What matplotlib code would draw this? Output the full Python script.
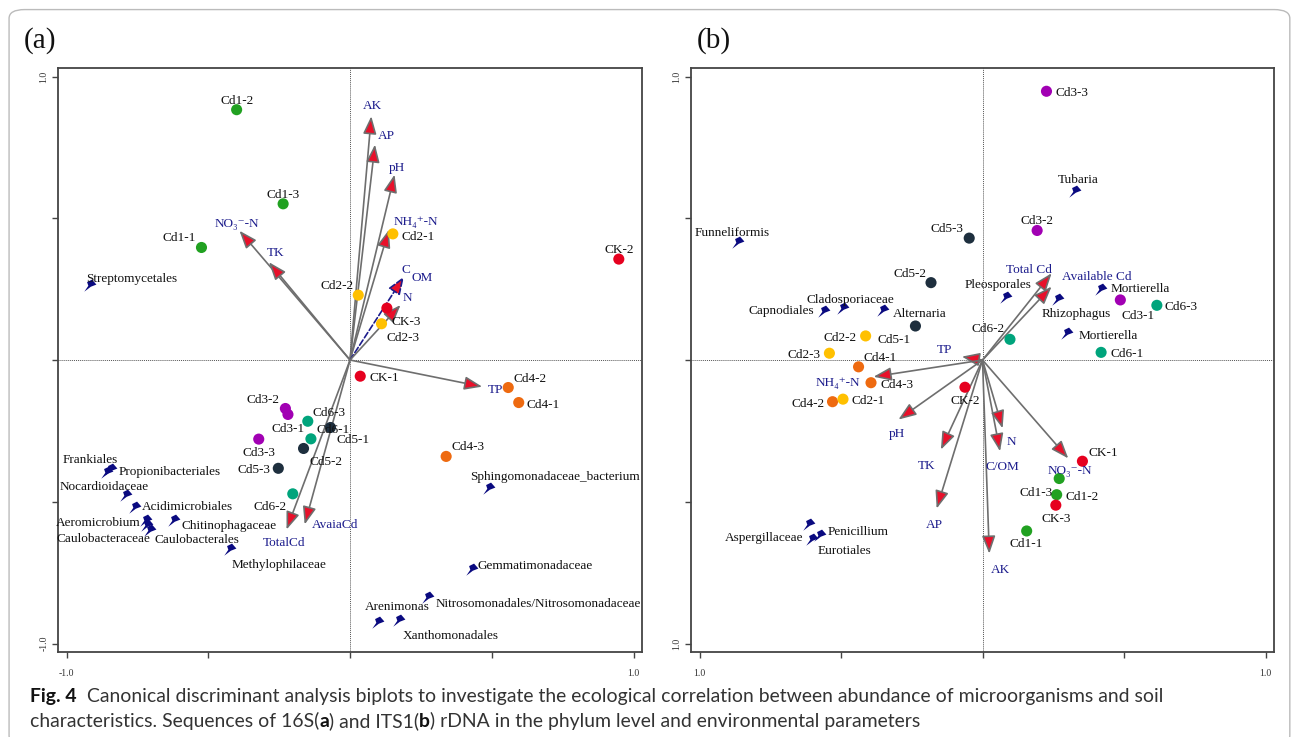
import matplotlib
matplotlib.use("Agg")
import matplotlib.pyplot as plt
from matplotlib.path import Path
from matplotlib.patches import FancyBboxPatch

# ---- colours per treatment group
GROUP_COLORS = {
    'CK': '#e6001f',
    'Cd1': '#21a121',
    'Cd2': '#ffc000',
    'Cd3': '#a100b3',
    'Cd4': '#ee6a10',
    'Cd5': '#1e2f3e',
    'Cd6': '#00a47c',
}
ARROW_GRAY = '#6e6e6e'
ENV_BLUE = '#1c1c8c'
SPECIES_BLUE = '#0a0a80'

NH4 = 'NH\u2084\u207a-N'
NO3 = 'NO\u2083\u207b-N'

# ---- panel (a): 16S samples
A_SAMPLES = ['Cd1-2', 'Cd1-3', 'Cd1-1', 'Cd2-2', 'Cd2-1', 'CK-3', 'Cd2-3', 'CK-2',
             'CK-1', 'Cd4-2', 'Cd4-1', 'Cd4-3', 'Cd3-2', 'Cd3-1', 'Cd3-3', 'Cd6-3',
             'Cd6-1', 'Cd5-1', 'Cd5-2', 'Cd5-3', 'Cd6-2']
A_SAMPLE_X = [-0.40, -0.236, -0.524, 0.029, 0.151, 0.130, 0.111, 0.948,
              0.036, 0.558, 0.595, 0.339, -0.228, -0.219, -0.322, -0.149,
              -0.138, -0.069, -0.164, -0.253, -0.202]
A_SAMPLE_Y = [0.883, 0.551, 0.397, 0.229, 0.445, 0.183, 0.128, 0.356,
              -0.057, -0.097, -0.150, -0.340, -0.171, -0.192, -0.279, -0.216,
              -0.278, -0.238, -0.312, -0.382, -0.472]

# panel (a): environmental arrows
A_ENV = ['AK', 'AP', 'pH', NH4, 'C', 'N', NO3, 'TK', 'TP', 'TotalCd', 'AvaiaCd']
A_ENV_X = [0.075, 0.088, 0.157, 0.137, 0.190, 0.178, -0.390, -0.286,
           0.466, -0.224, -0.160]
A_ENV_Y = [0.860, 0.760, 0.654, 0.459, 0.294, 0.194, 0.456, 0.345,
           -0.094, -0.598, -0.580]

# panel (a): taxa
A_SPECIES = ['Streptomycetales', 'Frankiales', 'Propionibacteriales', 'Nocardioidaceae',
             'Acidimicrobiales', 'Aeromicrobium', 'Caulobacteraceae', 'Caulobacterales',
             'Chitinophagaceae', 'Methylophilaceae', 'Sphingomonadaceae_bacterium',
             'Gemmatimonadaceae', 'Nitrosomonadales/Nitrosomonadaceae', 'Arenimonas',
             'Xanthomonadales']
A_SPECIES_X = [-0.918, -0.856, -0.842, -0.789, -0.759, -0.721, -0.715, -0.706,
               -0.621, -0.425, 0.489, 0.431, 0.274, 0.098, 0.174]
A_SPECIES_Y = [0.264, -0.395, -0.383, -0.475, -0.518, -0.565, -0.583, -0.598,
               -0.563, -0.665, -0.453, -0.736, -0.836, -0.925, -0.916]

# ---- panel (b): ITS1 samples
B_SAMPLES = ['Cd3-3', 'Cd3-2', 'Cd5-3', 'Cd3-1', 'Cd6-3', 'Cd6-2', 'Cd6-1', 'Cd5-2',
             'Cd5-1', 'Cd2-2', 'Cd2-3', 'Cd4-1', 'Cd4-3', 'Cd4-2', 'Cd2-1', 'CK-2',
             'CK-1', 'Cd1-3', 'Cd1-2', 'CK-3', 'Cd1-1']
B_SAMPLE_X = [0.226, 0.193, -0.047, 0.487, 0.616, 0.097, 0.419, -0.182,
              -0.237, -0.413, -0.541, -0.438, -0.394, -0.530, -0.493, -0.062,
              0.353, 0.271, 0.262, 0.259, 0.156]
B_SAMPLE_Y = [0.948, 0.457, 0.430, 0.212, 0.193, 0.073, 0.027, 0.273,
              0.120, 0.085, 0.024, -0.024, -0.080, -0.147, -0.138, -0.096,
              -0.357, -0.418, -0.475, -0.512, -0.603]

B_ENV = ['Total Cd', 'Available Cd', 'TP', NH4, 'pH', 'TK', 'AP', 'AK', 'N', 'C/OM', NO3]
B_ENV_X = [0.244, 0.244, -0.073, -0.385, -0.297, -0.147, -0.162, 0.024,
           0.071, 0.062, 0.303]
B_ENV_Y = [0.306, 0.259, 0.012, -0.059, -0.210, -0.316, -0.524, -0.683,
           -0.241, -0.322, -0.347]

B_SPECIES = ['Funneliformis', 'Capnodiales', 'Cladosporiaceae', 'Alternaria',
             'Pleosporales', 'Tubaria', 'Rhizophagus', 'Mortierella', 'Mortierella ',
             'Aspergillaceae', 'Penicillium', 'Eurotiales']
B_SPECIES_X = [-0.865, -0.561, -0.493, -0.350, 0.083, 0.326, 0.265, 0.420, 0.297,
               -0.614, -0.573, -0.602]
B_SPECIES_Y = [0.418, 0.174, 0.183, 0.177, 0.222, 0.597, 0.214, 0.250, 0.094,
               -0.577, -0.616, -0.630]

# label placement: offset in pixels from the mark to the label's middle (dx, dy, ha)
A_SAMPLE_LBL = {
    'Cd1-2': (0, 9, 'center'), 'Cd1-3': (0, 9, 'center'), 'Cd1-1': (-6, 9, 'right'),
    'Cd2-2': (-5, 9, 'right'), 'Cd2-1': (9, -3, 'left'), 'CK-3': (5, -14, 'left'),
    'Cd2-3': (5, -14, 'left'), 'CK-2': (0, 9, 'center'), 'CK-1': (9, -2, 'left'),
    'Cd4-2': (5, 9, 'left'), 'Cd4-1': (8, -2, 'left'), 'Cd4-3': (5, 9, 'left'),
    'Cd3-2': (-6, 9, 'right'), 'Cd3-1': (0, -15, 'center'), 'Cd3-3': (0, -14, 'center'),
    'Cd6-3': (5, 8, 'left'), 'Cd6-1': (6, 9, 'left'), 'Cd5-1': (6, -13, 'left'),
    'Cd5-2': (6, -14, 'left'), 'Cd5-3': (-8, -2, 'right'), 'Cd6-2': (-6, -13, 'right'),
}
B_SAMPLE_LBL = {
    'Cd3-3': (9, -2, 'left'), 'Cd3-2': (0, 9, 'center'), 'Cd5-3': (-6, 9, 'right'),
    'Cd3-1': (1, -16, 'left'), 'Cd6-3': (8, -2, 'left'), 'Cd6-2': (-5, 10, 'right'),
    'Cd6-1': (9, -2, 'left'), 'Cd5-2': (-5, 9, 'right'), 'Cd5-1': (-5, -14, 'right'),
    'Cd2-2': (-9, -2, 'right'), 'Cd2-3': (-9, -2, 'right'), 'Cd4-1': (5, 9, 'left'),
    'Cd4-3': (9, -2, 'left'), 'Cd4-2': (-8, -2, 'right'), 'Cd2-1': (9, -2, 'left'),
    'CK-2': (0, -14, 'center'), 'CK-1': (6, 8, 'left'), 'Cd1-3': (-7, -14, 'right'),
    'Cd1-2': (9, -2, 'left'), 'CK-3': (0, -14, 'center'), 'Cd1-1': (0, -13, 'center'),
}
A_ENV_LBL = {
    'AK': (1, 10, 'center'), 'AP': (11, 9, 'center'), 'pH': (2, 7, 'center'),
    NH4: (5, 8, 'left'), 'C': (2, 7, 'center'), 'N': (7, 7, 'center'),
    NO3: (-3, 7, 'center'), 'TK': (7, 9, 'center'), 'TP': (6, -3, 'left'),
    'TotalCd': (-2, -13, 'center'), 'AvaiaCd': (7, -1, 'left'),
}
B_ENV_LBL = {
    'Total Cd': (0, 3, 'right'), 'Available Cd': (10, 10, 'left'), 'TP': (-17, 7, 'center'),
    NH4: (-13, -6, 'right'), 'pH': (-2, -14, 'center'), 'TK': (-14, -16, 'center'),
    'AP': (-2, -16, 'center'), 'AK': (11, -16, 'center'), 'N': (9, -14, 'center'),
    'C/OM': (2, -16, 'center'), NO3: (2, -13, 'center'),
}
A_SPECIES_LBL = {
    'Streptomycetales': (-4, 6, 'left'), 'Frankiales': (-17, 12, 'center'),
    'Propionibacteriales': (7, -3, 'left'), 'Nocardioidaceae': (-22, 8, 'center'),
    'Acidimicrobiales': (7, 0, 'left'), 'Aeromicrobium': (-5, -3, 'right'),
    'Caulobacteraceae': (3, -14, 'right'), 'Caulobacterales': (5, -10, 'left'),
    'Chitinophagaceae': (8, -6, 'left'), 'Methylophilaceae': (2, -16, 'left'),
    'Sphingomonadaceae_bacterium': (-19, 11, 'left'), 'Gemmatimonadaceae': (5, 3, 'left'),
    'Nitrosomonadales/Nitrosomonadaceae': (8, -7, 'left'), 'Arenimonas': (19, 15, 'center'),
    'Xanthomonadales': (3, -16, 'left'),
}
B_SPECIES_LBL = {
    'Funneliformis': (-6, 9, 'center'), 'Capnodiales': (-10, 0, 'right'),
    'Cladosporiaceae': (7, 8, 'center'), 'Alternaria': (9, -4, 'left'),
    'Pleosporales': (-8, 12, 'center'), 'Tubaria': (3, 11, 'center'),
    'Rhizophagus': (19, -15, 'center'), 'Mortierella': (9, 0, 'left'),
    'Mortierella ': (12, -3, 'left'), 'Aspergillaceae': (-5, -14, 'right'),
    'Penicillium': (7, 3, 'left'), 'Eurotiales': (5, -12, 'left'),
}

# small chunky pennant marker used for the taxa
SPECIES_MARKER = Path([(-1.0, -1.0), (-0.35, -0.05), (-0.55, 0.55), (0.25, 0.95),
                       (0.95, 0.15), (0.05, -0.2), (-1.0, -1.0)],
                      [Path.MOVETO] + [Path.LINETO] * 5 + [Path.CLOSEPOLY])

SERIF = ['Liberation Serif', 'DejaVu Serif']


def group_of(name):
    return name.split('-')[0]


def put_label(ax, text, x, y, offset, color, size=9.5):
    dx, dy, ha = offset
    ax.annotate(text, (x, y), xytext=(dx, dy), textcoords='offset pixels',
                ha=ha, va='center', fontsize=size, color=color, family=SERIF, zorder=5)


def draw_biplot(ax, samples, sx, sy, s_lbl, env, ex, ey, e_lbl, species, px, py, p_lbl,
                dashed_env=(), xlabels=('-1.0', '1.0'), ylabels=('-1.0', '1.0')):
    ax.set_xlim(-1.03, 1.03)
    ax.set_ylim(-1.03, 1.03)
    ax.axhline(0, color='#555555', lw=0.7, ls=(0, (1, 1)), zorder=1)
    ax.axvline(0, color='#555555', lw=0.7, ls=(0, (1, 1)), zorder=1)

    # environmental arrows
    for name, x, y in zip(env, ex, ey):
        dashed = name in dashed_env
        ax.annotate('', xy=(x, y), xytext=(0, 0), zorder=3,
                    arrowprops=dict(arrowstyle='-|>,head_length=0.9,head_width=0.34',
                                    mutation_scale=12, lw=1.2, fc='#e8102a',
                                    ec=ENV_BLUE if dashed else ARROW_GRAY,
                                    ls='--' if dashed else '-', shrinkA=0, shrinkB=0))
        put_label(ax, name, x, y, e_lbl[name], ENV_BLUE)

    # taxa
    ax.scatter(px, py, marker=SPECIES_MARKER, s=80, color=SPECIES_BLUE, lw=0, zorder=4)
    for name, x, y in zip(species, px, py):
        put_label(ax, name.strip(), x, y, p_lbl[name], '#111111')

    # samples
    colors = [GROUP_COLORS[group_of(n)] for n in samples]
    ax.scatter(sx, sy, s=64, c=colors, lw=0, zorder=4)
    for name, x, y in zip(samples, sx, sy):
        put_label(ax, name, x, y, s_lbl[name], '#111111')

    for sp in ax.spines.values():
        sp.set_color('#444444')
        sp.set_linewidth(1.3)
    ticks = [-1, -0.5, 0, 0.5, 1]
    ax.set_xticks(ticks)
    ax.set_yticks(ticks)
    ax.set_xticklabels([xlabels[0], '', '', '', xlabels[1]])
    ax.set_yticklabels([ylabels[0], '', '', '', ylabels[1]], rotation=90, va='center')
    ax.tick_params(direction='out', length=4, width=1.0, color='#444444',
                   labelsize=7, pad=3, labelcolor='#333333')
    ax.tick_params(axis='x', pad=8)
    for lab in ax.get_xticklabels() + ax.get_yticklabels():
        lab.set_family(SERIF)


fig = plt.figure(figsize=(12.95, 7.37), dpi=100)

# rounded frame around the figure
fig.patches.append(FancyBboxPatch((0.007, -0.01), 0.989, 0.997,
                                  boxstyle='round,pad=0,rounding_size=0.012',
                                  transform=fig.transFigure, fc='none', ec='#bbbbbb',
                                  lw=1.0))

ax_a = fig.add_axes([0.0448, 0.1153, 0.4510, 0.7924])
ax_b = fig.add_axes([0.5336, 0.1153, 0.4502, 0.7924])

draw_biplot(ax_a, A_SAMPLES, A_SAMPLE_X, A_SAMPLE_Y, A_SAMPLE_LBL,
            A_ENV, A_ENV_X, A_ENV_Y, A_ENV_LBL,
            A_SPECIES, A_SPECIES_X, A_SPECIES_Y, A_SPECIES_LBL, dashed_env=('C',))
# OM shares the C arrow in panel (a)
put_label(ax_a, 'OM', A_ENV_X[4], A_ENV_Y[4], (8, -1, 'left'), ENV_BLUE)

draw_biplot(ax_b, B_SAMPLES, B_SAMPLE_X, B_SAMPLE_Y, B_SAMPLE_LBL,
            B_ENV, B_ENV_X, B_ENV_Y, B_ENV_LBL,
            B_SPECIES, B_SPECIES_X, B_SPECIES_Y, B_SPECIES_LBL,
            xlabels=('1.0', '1.0'), ylabels=('1.0', '1.0'))

fig.text(0.018, 0.935, '(a)', fontsize=21, family=SERIF, color='#111111')
fig.text(0.538, 0.935, '(b)', fontsize=21, family=SERIF, color='#111111')

# caption, written piece by piece so the bold parts line up
CAP_FONT = 'Lato'
CAP_SIZE = 13.95
renderer = fig.canvas.get_renderer()


def caption_line(pieces, x_px, y_frac):
    x = x_px
    for text, bold in pieces:
        t = fig.text(x / 1295, y_frac, text, fontsize=CAP_SIZE, family=CAP_FONT,
                     weight='bold' if bold else 'normal',
                     color='#111111' if bold else '#333333', va='baseline')
        x = x + t.get_window_extent(renderer).width


caption_line([('Fig. 4', True),
              ('  Canonical discriminant analysis biplots to investigate the ecological '
               'correlation between abundance of microorganisms and soil', False)],
             30, 0.047)
caption_line([('characteristics. Sequences of 16S(', False), ('a', True),
              (') and ITS1(', False), ('b', True),
              (') rDNA in the phylum level and environmental parameters', False)],
             30, 0.013)

fig.savefig('out.png', dpi=100)
